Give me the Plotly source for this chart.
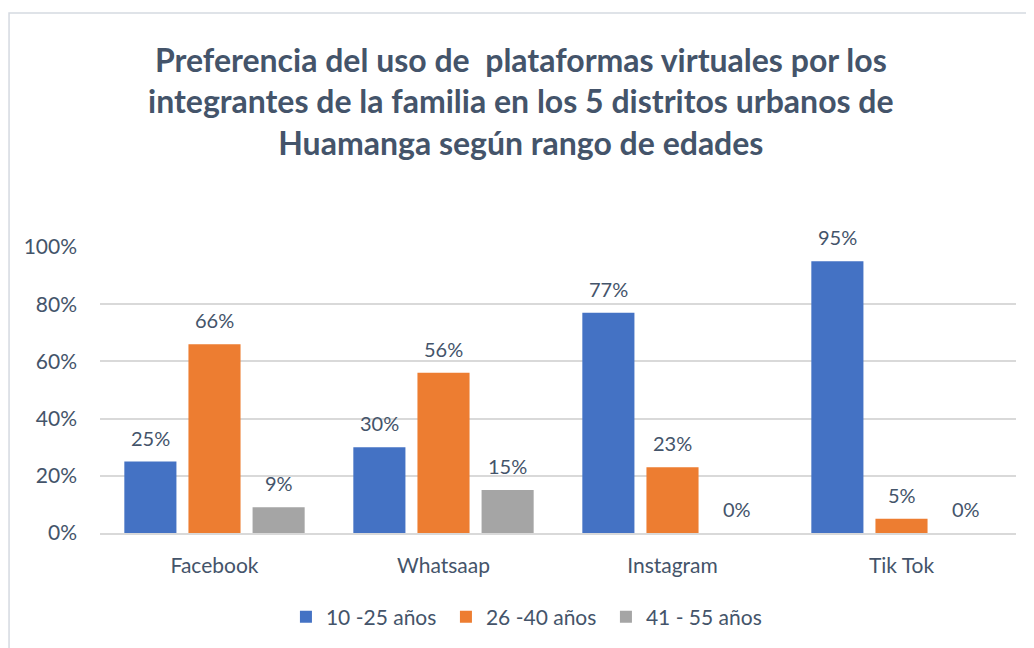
import plotly.graph_objects as go

categories = ["Facebook", "Whatsaap", "Instagram", "Tik Tok"]
series_names = ["10 -25 años", "26 -40 años", "41 - 55 años"]
s1 = [0.25, 0.30, 0.77, 0.95]
s2 = [0.66, 0.56, 0.23, 0.05]
s3 = [0.09, 0.15, 0.00, 0.00]
colors = ["#4472C4", "#ED7D31", "#A5A5A5"]
y_ticks = [0, 0.2, 0.4, 0.6, 0.8, 1.0]

FONT = "Lato"
TXT = "#44546A"

series = [s1, s2, s3]
fig = go.Figure()
for name, vals, col in zip(series_names, series, colors):
    fig.add_trace(go.Bar(
        x=categories, y=vals, name=name,
        marker=dict(color=col, line=dict(width=0)),
    ))

# data labels placed above bars
for i, vals in enumerate(series):
    for cat, v in zip(categories, vals):
        fig.add_annotation(x=cat, y=v, text=f"{v*100:.0f}%", showarrow=False,
                           xshift=(i - 1) * 64, yshift=10, yanchor="bottom",
                           font=dict(family=FONT, size=20, color=TXT))

fig.update_layout(
    width=1034, height=648,
    margin=dict(l=92, r=26, t=239, b=123),
    paper_bgcolor="white", plot_bgcolor="white",
    barmode="group", bargap=0.16, bargroupgap=0.1875,
    font=dict(family=FONT, color=TXT),
    title=dict(
        text="<b>Preferencia del uso de  plataformas virtuales por los<br>integrantes de la familia en los 5 distritos urbanos de<br>Huamanga según rango de edades</b>",
        x=0.496, xanchor="center", y=0.902, yanchor="top",
        font=dict(family=FONT, size=32, color=TXT),
    ),
    legend=dict(orientation="h", x=0.465, xanchor="center", y=-0.294, yanchor="middle",
                font=dict(family=FONT, size=21, color=TXT), itemwidth=30,
                entrywidth=115, entrywidthmode="pixels"),
    showlegend=True,
)
fig.update_yaxes(range=[0, 1.0], tickvals=y_ticks, tickformat=".0%",
                 gridcolor="#D9D9D9", gridwidth=1.5, zeroline=False,
                 showline=False, ticklabelstandoff=22,
                 tickfont=dict(family=FONT, size=21, color=TXT))
fig.update_xaxes(showline=True, linecolor="#D9D9D9", linewidth=1.5,
                 ticklabelstandoff=13,
                 tickfont=dict(family=FONT, size=21, color=TXT))

fig.add_shape(type="rect", xref="paper", yref="paper",
              x0=-0.0993, x1=1.1, y0=-0.5, y1=1.818,
              line=dict(color="#D5DAE1", width=1.5), fillcolor="rgba(0,0,0,0)", layer="above")

fig.write_html("out.html")
